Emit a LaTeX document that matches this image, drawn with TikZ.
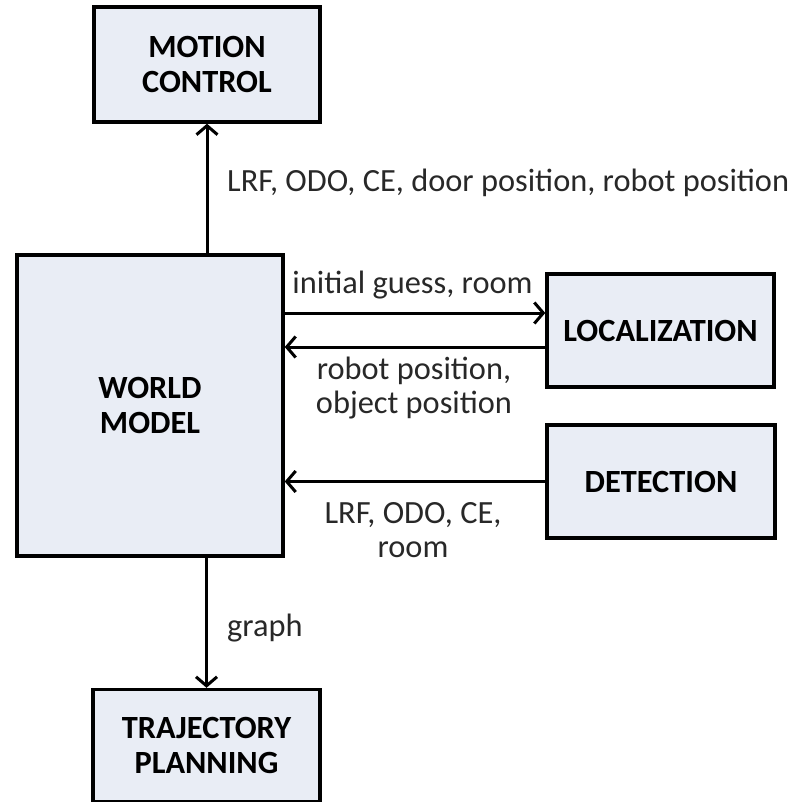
\documentclass[tikz,border=0pt]{standalone}
\usepackage{fontspec}
\setmainfont{Carlito}
\usetikzlibrary{arrows.meta,calc}
\definecolor{boxfill}{RGB}{233,237,245}
\definecolor{lblcol}{RGB}{40,40,40}
\tikzset{
  block/.style={draw=black, line width=3.4bp, fill=boxfill, align=center,
    font=\fontsize{32.5}{36}\selectfont\bfseries, inner sep=0pt},
  lbl/.style={text=lblcol, align=center, font=\fontsize{32.5}{34}\selectfont, inner sep=0pt},
  arr/.style={line width=3bp, -{Straight Barb[length=9bp,width=21bp,line width=3bp]}}
}
\begin{document}
\begin{tikzpicture}[x=1bp,y=-1bp]
\useasboundingbox (0,0) rectangle (792,802);
\node[block, minimum width=226bp, minimum height=115bp] (MC) at (207,64.5) {MOTION\\CONTROL};
\node[block, minimum width=266bp, minimum height=301bp] (WM) at (150,405.5) {WORLD\\MODEL};
\node[block, minimum width=227bp, minimum height=113bp] (LOC) at (660.5,330.5) {LOCALIZATION};
\node[block, minimum width=228bp, minimum height=113bp] (DET) at (661,481.5) {DETECTION};
\node[block, minimum width=227bp, minimum height=112bp] (TP) at (206.5,745.5) {TRAJECTORY\\PLANNING};

\draw[arr] (WM.north -| MC.south) -- (MC.south);
\coordinate (locin) at ([yshift=17.5bp]LOC.west);
\coordinate (locout) at ([yshift=-16.5bp]LOC.west);
\draw[arr] (WM.east |- locin) -- (locin);
\draw[arr] (locout) -- (WM.east |- locout);
\draw[arr] (DET.west) -- (WM.east |- DET.west);
\draw[arr] (WM.south -| TP.north) -- (TP.north);

\node[lbl, anchor=west] (l1) at (227,183) {LRF, ODO, CE, door position, robot position};
\node[lbl] (l2) at (412.5,285) {initial guess, room};
\node[lbl] (l3) at (414,388) {robot position,\\object position};
\node[lbl] (l4) at (413,530) {LRF, ODO, CE,\\room};
\node[lbl, anchor=west] (l5) at (227,628) {graph};
\end{tikzpicture}
\end{document}
